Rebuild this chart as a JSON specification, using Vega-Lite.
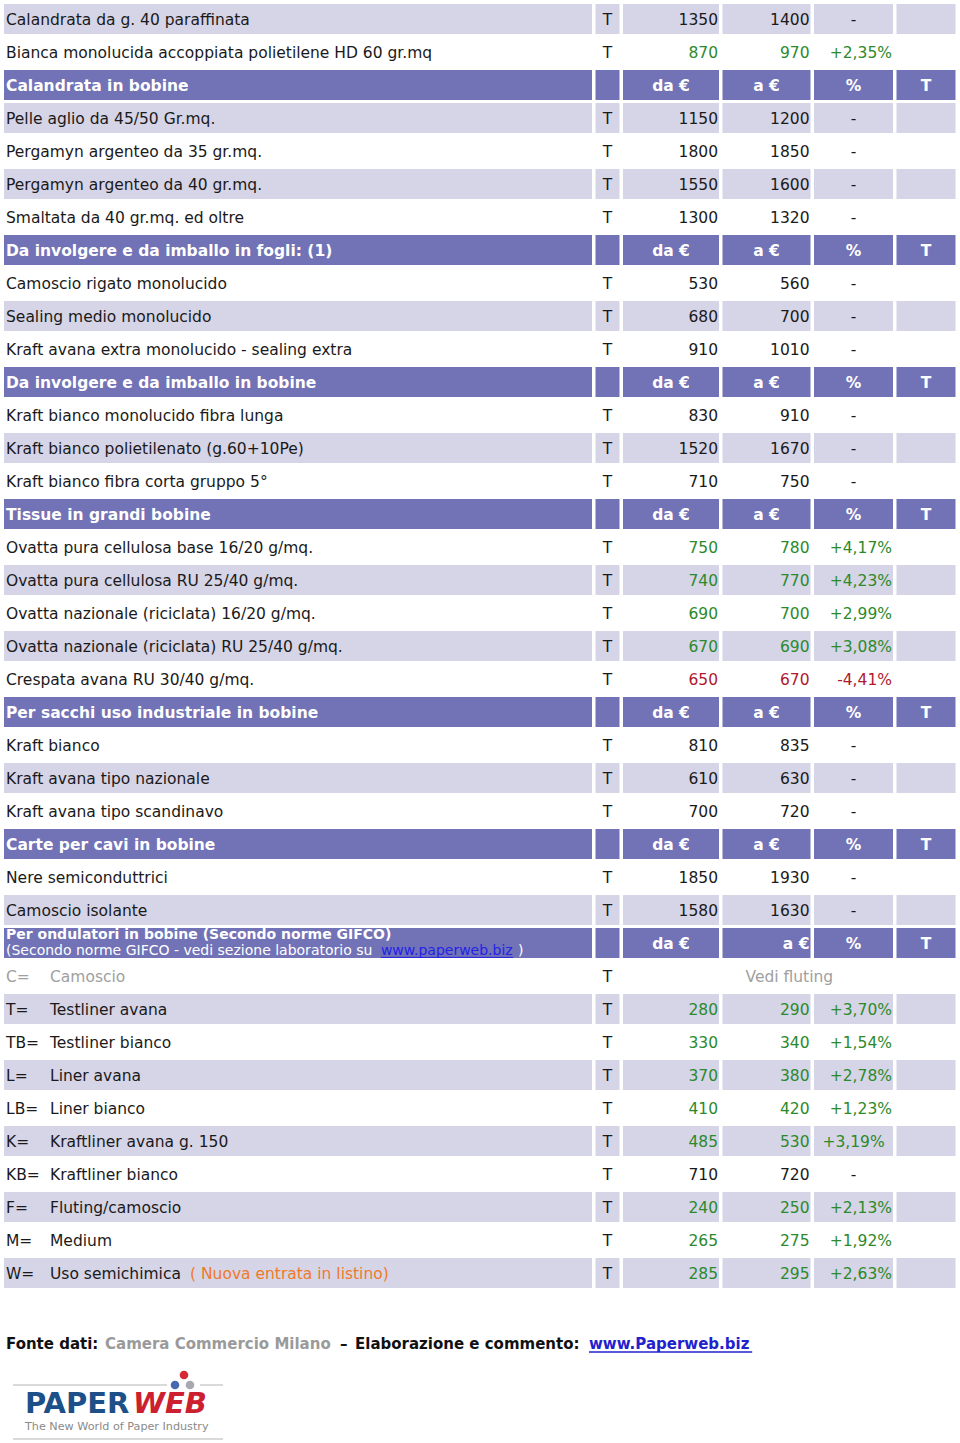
{
  "$schema": "https://vega.github.io/schema/vega-lite/v6.json",
  "background": "white",
  "padding": {"left": 4, "top": 0, "right": 0, "bottom": 0},
  "spacing": 40,
  "config": {"view": {"stroke": null}, "text": {"font": "DejaVu Sans", "fontSize": 15.5}},
  "datasets": {
    "table": [
      {"r":1,"kind":"s","name":"Calandrata da g. 40 paraffinata","u":"T","da":1350,"a":1400,"pct":"-","trend":"flat"},
      {"r":2,"kind":"w","name":"Bianca monolucida accoppiata polietilene HD 60 gr.mq","u":"T","da":870,"a":970,"pct":"+2,35%","trend":"up"},
      {"r":3,"kind":"h","name":"Calandrata in bobine"},
      {"r":4,"kind":"s","name":"Pelle aglio da 45/50 Gr.mq.","u":"T","da":1150,"a":1200,"pct":"-","trend":"flat"},
      {"r":5,"kind":"w","name":"Pergamyn argenteo da 35 gr.mq.","u":"T","da":1800,"a":1850,"pct":"-","trend":"flat"},
      {"r":6,"kind":"s","name":"Pergamyn argenteo da 40 gr.mq.","u":"T","da":1550,"a":1600,"pct":"-","trend":"flat"},
      {"r":7,"kind":"w","name":"Smaltata da 40 gr.mq. ed oltre","u":"T","da":1300,"a":1320,"pct":"-","trend":"flat"},
      {"r":8,"kind":"h","name":"Da involgere e da imballo in fogli: (1)"},
      {"r":9,"kind":"w","name":"Camoscio rigato monolucido","u":"T","da":530,"a":560,"pct":"-","trend":"flat"},
      {"r":10,"kind":"s","name":"Sealing medio monolucido","u":"T","da":680,"a":700,"pct":"-","trend":"flat"},
      {"r":11,"kind":"w","name":"Kraft avana extra monolucido - sealing extra","u":"T","da":910,"a":1010,"pct":"-","trend":"flat"},
      {"r":12,"kind":"h","name":"Da involgere e da imballo in bobine"},
      {"r":13,"kind":"w","name":"Kraft bianco monolucido fibra lunga","u":"T","da":830,"a":910,"pct":"-","trend":"flat"},
      {"r":14,"kind":"s","name":"Kraft bianco polietilenato (g.60+10Pe)","u":"T","da":1520,"a":1670,"pct":"-","trend":"flat"},
      {"r":15,"kind":"w","name":"Kraft bianco fibra corta gruppo 5°","u":"T","da":710,"a":750,"pct":"-","trend":"flat"},
      {"r":16,"kind":"h","name":"Tissue in grandi bobine"},
      {"r":17,"kind":"w","name":"Ovatta pura cellulosa base 16/20 g/mq.","u":"T","da":750,"a":780,"pct":"+4,17%","trend":"up"},
      {"r":18,"kind":"s","name":"Ovatta pura cellulosa RU 25/40 g/mq.","u":"T","da":740,"a":770,"pct":"+4,23%","trend":"up"},
      {"r":19,"kind":"w","name":"Ovatta nazionale (riciclata) 16/20 g/mq.","u":"T","da":690,"a":700,"pct":"+2,99%","trend":"up"},
      {"r":20,"kind":"s","name":"Ovatta nazionale (riciclata) RU 25/40 g/mq.","u":"T","da":670,"a":690,"pct":"+3,08%","trend":"up"},
      {"r":21,"kind":"w","name":"Crespata avana RU 30/40 g/mq.","u":"T","da":650,"a":670,"pct":"-4,41%","trend":"down"},
      {"r":22,"kind":"h","name":"Per sacchi uso industriale in bobine"},
      {"r":23,"kind":"w","name":"Kraft bianco","u":"T","da":810,"a":835,"pct":"-","trend":"flat"},
      {"r":24,"kind":"s","name":"Kraft avana tipo nazionale","u":"T","da":610,"a":630,"pct":"-","trend":"flat"},
      {"r":25,"kind":"w","name":"Kraft avana tipo scandinavo","u":"T","da":700,"a":720,"pct":"-","trend":"flat"},
      {"r":26,"kind":"h","name":"Carte per cavi in bobine"},
      {"r":27,"kind":"w","name":"Nere semiconduttrici","u":"T","da":1850,"a":1930,"pct":"-","trend":"flat"},
      {"r":28,"kind":"s","name":"Camoscio isolante","u":"T","da":1580,"a":1630,"pct":"-","trend":"flat"},
      {"r":29,"kind":"h","name":"Per ondulatori in bobine (Secondo norme GIFCO)","sub":"(Secondo norme GIFCO - vedi sezione laboratorio su","link":"www.paperweb.biz","subEnd":")"},
      {"r":30,"kind":"w","code":"C=","name":"Camoscio","u":"T","see":"Vedi fluting","trend":"ref"},
      {"r":31,"kind":"s","code":"T=","name":"Testliner avana","u":"T","da":280,"a":290,"pct":"+3,70%","trend":"up"},
      {"r":32,"kind":"w","code":"TB=","name":"Testliner bianco","u":"T","da":330,"a":340,"pct":"+1,54%","trend":"up"},
      {"r":33,"kind":"s","code":"L=","name":"Liner avana","u":"T","da":370,"a":380,"pct":"+2,78%","trend":"up"},
      {"r":34,"kind":"w","code":"LB=","name":"Liner bianco","u":"T","da":410,"a":420,"pct":"+1,23%","trend":"up"},
      {"r":35,"kind":"s","code":"K=","name":"Kraftliner avana g. 150","u":"T","da":485,"a":530,"pct":"+3,19%","trend":"up"},
      {"r":36,"kind":"w","code":"KB=","name":"Kraftliner bianco","u":"T","da":710,"a":720,"pct":"-","trend":"flat"},
      {"r":37,"kind":"s","code":"F=","name":"Fluting/camoscio","u":"T","da":240,"a":250,"pct":"+2,13%","trend":"up"},
      {"r":38,"kind":"w","code":"M=","name":"Medium","u":"T","da":265,"a":275,"pct":"+1,92%","trend":"up"},
      {"r":39,"kind":"s","code":"W=","name":"Uso semichimica","note":"( Nuova entrata in listino)","u":"T","da":285,"a":295,"pct":"+2,63%","trend":"up"}
    ]
  },
  "vconcat": [
    {
      "hconcat": [
        {
          "width": 588, "height": {"step": 33},
          "data": {"name": "table"},
          "encoding": {"y": {"field": "r", "type": "ordinal", "axis": null, "scale": {"paddingInner": 0.0909, "paddingOuter": 0.1212}}},
          "layer": [
            {"mark": {"type": "rect"}, "encoding": {"x": {"datum": 0, "type": "quantitative", "scale": {"domain": [0, 1], "nice": false}, "axis": null}, "x2": {"datum": 1}, "fill": {"field": "kind", "type": "nominal", "scale": {"domain": ["h", "s", "w"], "range": ["#7272b6", "#d6d4e7", "rgba(255,255,255,0)"]}, "legend": null}}},
            {"transform": [{"filter": "datum.kind === 'h' && datum.r !== 29"}], "mark": {"type": "text", "align": "left", "dx": 2, "dy": 1, "fontWeight": "bold", "color": "#ffffff"}, "encoding": {"x": {"datum": 0, "type": "quantitative"}, "text": {"field": "name"}}},
            {"transform": [{"filter": "datum.r === 29"}], "mark": {"type": "text", "align": "left", "dx": 2, "dy": -7.5, "fontSize": 14, "fontWeight": "bold", "color": "#ffffff"}, "encoding": {"x": {"datum": 0, "type": "quantitative"}, "text": {"field": "name"}}},
            {"transform": [{"filter": "datum.r === 29"}], "mark": {"type": "text", "align": "left", "dx": 2, "dy": 8, "fontSize": 14, "color": "#ffffff"}, "encoding": {"x": {"datum": 0, "type": "quantitative"}, "text": {"field": "sub"}}},
            {"transform": [{"filter": "datum.r === 29"}], "mark": {"type": "text", "align": "left", "dy": 8, "fontSize": 14, "color": "#2323e6"}, "encoding": {"x": {"datum": 0.641, "type": "quantitative"}, "text": {"field": "link"}}},
            {"transform": [{"filter": "datum.r === 29"}], "mark": {"type": "text", "align": "left", "dy": 8, "fontSize": 14, "color": "#ffffff"}, "encoding": {"x": {"datum": 0.874, "type": "quantitative"}, "text": {"field": "subEnd"}}},
            {"transform": [{"filter": "datum.r === 29"}], "mark": {"type": "rule", "color": "#2323e6", "strokeWidth": 1}, "encoding": {"x": {"datum": 0.641, "type": "quantitative"}, "x2": {"datum": 0.866}, "y": {"field": "r", "type": "ordinal", "bandPosition": 0.98}}},
            {"transform": [{"filter": "datum.kind !== 'h' && !datum.code"}], "mark": {"type": "text", "align": "left", "dx": 2, "dy": 1}, "encoding": {"x": {"datum": 0, "type": "quantitative"}, "text": {"field": "name"}, "color": {"value": "#1a1a1a"}}},
            {"transform": [{"filter": "datum.code"}], "mark": {"type": "text", "align": "left", "dx": 2, "dy": 1}, "encoding": {"x": {"datum": 0, "type": "quantitative"}, "text": {"field": "code"}, "color": {"condition": {"test": "datum.trend === 'ref'", "value": "#a0a0a0"}, "value": "#1a1a1a"}}},
            {"transform": [{"filter": "datum.code"}], "mark": {"type": "text", "align": "left", "dx": 46, "dy": 1}, "encoding": {"x": {"datum": 0, "type": "quantitative"}, "text": {"field": "name"}, "color": {"condition": {"test": "datum.trend === 'ref'", "value": "#a0a0a0"}, "value": "#1a1a1a"}}},
            {"transform": [{"filter": "datum.note"}], "mark": {"type": "text", "align": "left", "dx": 186, "dy": 1, "color": "#f07a2a"}, "encoding": {"x": {"datum": 0, "type": "quantitative"}, "text": {"field": "note"}}}
          ]
        },
        {
          "width": 24, "height": {"step": 33},
          "data": {"name": "table"},
          "encoding": {"y": {"field": "r", "type": "ordinal", "axis": null, "scale": {"paddingInner": 0.0909, "paddingOuter": 0.1212}}},
          "layer": [
            {"mark": {"type": "rect"}, "encoding": {"x": {"datum": 0, "type": "quantitative", "scale": {"domain": [0, 1], "nice": false}, "axis": null}, "x2": {"datum": 1}, "fill": {"field": "kind", "type": "nominal", "scale": {"domain": ["h", "s", "w"], "range": ["#7272b6", "#d6d4e7", "rgba(255,255,255,0)"]}, "legend": null}}},
            {"transform": [{"filter": "datum.u"}], "mark": {"type": "text", "align": "center", "dy": 1, "color": "#1a1a1a"}, "encoding": {"x": {"datum": 0.5, "type": "quantitative"}, "text": {"field": "u"}}}
          ]
        },
        {
          "width": 96, "height": {"step": 33},
          "data": {"name": "table"},
          "encoding": {"y": {"field": "r", "type": "ordinal", "axis": null, "scale": {"paddingInner": 0.0909, "paddingOuter": 0.1212}}},
          "layer": [
            {"mark": {"type": "rect"}, "encoding": {"x": {"datum": 0, "type": "quantitative", "scale": {"domain": [0, 1], "nice": false}, "axis": null}, "x2": {"datum": 1}, "fill": {"field": "kind", "type": "nominal", "scale": {"domain": ["h", "s", "w"], "range": ["#7272b6", "#d6d4e7", "rgba(255,255,255,0)"]}, "legend": null}}},
            {"transform": [{"filter": "datum.kind === 'h'"}], "mark": {"type": "text", "align": "center", "dy": 1, "fontWeight": "bold", "color": "#ffffff"}, "encoding": {"x": {"datum": 0.5, "type": "quantitative"}, "text": {"value": "da €"}}},
            {"transform": [{"filter": "isValid(datum.da)"}], "mark": {"type": "text", "align": "right", "dx": -1, "dy": 1}, "encoding": {"x": {"datum": 1, "type": "quantitative"}, "text": {"field": "da"}, "color": {"field": "trend", "type": "nominal", "scale": {"domain": ["up", "down", "flat"], "range": ["#2b8a2b", "#b0182c", "#1a1a1a"]}, "legend": null}}}
          ]
        },
        {
          "width": 88, "height": {"step": 33},
          "data": {"name": "table"},
          "encoding": {"y": {"field": "r", "type": "ordinal", "axis": null, "scale": {"paddingInner": 0.0909, "paddingOuter": 0.1212}}},
          "layer": [
            {"mark": {"type": "rect"}, "encoding": {"x": {"datum": 0, "type": "quantitative", "scale": {"domain": [0, 1], "nice": false}, "axis": null}, "x2": {"datum": 1}, "fill": {"field": "kind", "type": "nominal", "scale": {"domain": ["h", "s", "w"], "range": ["#7272b6", "#d6d4e7", "rgba(255,255,255,0)"]}, "legend": null}}},
            {"transform": [{"filter": "datum.kind === 'h' && datum.r !== 29"}], "mark": {"type": "text", "align": "center", "dy": 1, "fontWeight": "bold", "color": "#ffffff"}, "encoding": {"x": {"datum": 0.5, "type": "quantitative"}, "text": {"value": "a €"}}},
            {"transform": [{"filter": "datum.r === 29"}], "mark": {"type": "text", "align": "right", "dx": -1, "dy": 1, "fontWeight": "bold", "color": "#ffffff"}, "encoding": {"x": {"datum": 1, "type": "quantitative"}, "text": {"value": "a €"}}},
            {"transform": [{"filter": "isValid(datum.a)"}], "mark": {"type": "text", "align": "right", "dx": -1, "dy": 1}, "encoding": {"x": {"datum": 1, "type": "quantitative"}, "text": {"field": "a"}, "color": {"field": "trend", "type": "nominal", "scale": {"domain": ["up", "down", "flat"], "range": ["#2b8a2b", "#b0182c", "#1a1a1a"]}, "legend": null}}},
            {"transform": [{"filter": "datum.see"}], "mark": {"type": "text", "align": "left", "dx": 23, "dy": 1, "color": "#a0a0a0"}, "encoding": {"x": {"datum": 0, "type": "quantitative"}, "text": {"field": "see"}}}
          ]
        },
        {
          "width": 79, "height": {"step": 33},
          "data": {"name": "table"},
          "encoding": {"y": {"field": "r", "type": "ordinal", "axis": null, "scale": {"paddingInner": 0.0909, "paddingOuter": 0.1212}}},
          "layer": [
            {"mark": {"type": "rect"}, "encoding": {"x": {"datum": 0, "type": "quantitative", "scale": {"domain": [0, 1], "nice": false}, "axis": null}, "x2": {"datum": 1}, "fill": {"field": "kind", "type": "nominal", "scale": {"domain": ["h", "s", "w"], "range": ["#7272b6", "#d6d4e7", "rgba(255,255,255,0)"]}, "legend": null}}},
            {"transform": [{"filter": "datum.kind === 'h'"}], "mark": {"type": "text", "align": "center", "dy": 1, "fontWeight": "bold", "color": "#ffffff"}, "encoding": {"x": {"datum": 0.5, "type": "quantitative"}, "text": {"value": "%"}}},
            {"transform": [{"filter": "datum.pct === '-' || datum.r === 35"}], "mark": {"type": "text", "align": "center", "dy": 1}, "encoding": {"x": {"datum": 0.5, "type": "quantitative"}, "text": {"field": "pct"}, "color": {"field": "trend", "type": "nominal", "scale": {"domain": ["up", "down", "flat"], "range": ["#2b8a2b", "#b0182c", "#1a1a1a"]}, "legend": null}}},
            {"transform": [{"filter": "datum.pct && datum.pct !== '-' && datum.r !== 35"}], "mark": {"type": "text", "align": "right", "dx": -1, "dy": 1}, "encoding": {"x": {"datum": 1, "type": "quantitative"}, "text": {"field": "pct"}, "color": {"field": "trend", "type": "nominal", "scale": {"domain": ["up", "down", "flat"], "range": ["#2b8a2b", "#b0182c", "#1a1a1a"]}, "legend": null}}}
          ]
        },
        {
          "width": 59, "height": {"step": 33},
          "data": {"name": "table"},
          "encoding": {"y": {"field": "r", "type": "ordinal", "axis": null, "scale": {"paddingInner": 0.0909, "paddingOuter": 0.1212}}},
          "layer": [
            {"mark": {"type": "rect"}, "encoding": {"x": {"datum": 0, "type": "quantitative", "scale": {"domain": [0, 1], "nice": false}, "axis": null}, "x2": {"datum": 1}, "fill": {"field": "kind", "type": "nominal", "scale": {"domain": ["h", "s", "w"], "range": ["#7272b6", "#d6d4e7", "rgba(255,255,255,0)"]}, "legend": null}}},
            {"transform": [{"filter": "datum.kind === 'h'"}], "mark": {"type": "text", "align": "center", "dy": 1, "fontWeight": "bold", "color": "#ffffff"}, "encoding": {"x": {"datum": 0.5, "type": "quantitative"}, "text": {"value": "T"}}}
          ]
        }
      ],
      "spacing": 3.5,
      "bounds": "flush"
    },
    {
      "vconcat": [
        {
          "hconcat": [
            {"width": 101, "height": 24, "data": {"values": [{}]}, "mark": {"type": "text", "align": "left", "dx": 2, "fontSize": 15, "fontWeight": "bold", "color": "#111111"}, "encoding": {"x": {"datum": 0, "type": "quantitative", "scale": {"domain": [0, 1], "nice": false}, "axis": null}, "text": {"value": "Fonte dati:"}}},
            {"width": 235, "height": 24, "data": {"values": [{}]}, "mark": {"type": "text", "align": "left", "fontSize": 15, "fontWeight": "bold", "color": "#9a9a9a"}, "encoding": {"x": {"datum": 0, "type": "quantitative", "scale": {"domain": [0, 1], "nice": false}, "axis": null}, "text": {"value": "Camera Commercio Milano"}}},
            {"width": 15, "height": 24, "data": {"values": [{}]}, "mark": {"type": "text", "align": "left", "fontSize": 15, "fontWeight": "bold", "color": "#111111"}, "encoding": {"x": {"datum": 0, "type": "quantitative", "scale": {"domain": [0, 1], "nice": false}, "axis": null}, "text": {"value": "–"}}},
            {"width": 234, "height": 24, "data": {"values": [{}]}, "mark": {"type": "text", "align": "left", "fontSize": 15, "fontWeight": "bold", "color": "#111111"}, "encoding": {"x": {"datum": 0, "type": "quantitative", "scale": {"domain": [0, 1], "nice": false}, "axis": null}, "text": {"value": "Elaborazione e commento:"}}},
            {
              "width": 170, "height": 24, "data": {"values": [{}]},
              "layer": [
                {"mark": {"type": "text", "align": "left", "fontSize": 15, "fontWeight": "bold", "color": "#2222cc"}, "encoding": {"x": {"datum": 0, "type": "quantitative", "scale": {"domain": [0, 1], "nice": false}, "axis": null}, "text": {"value": "www.Paperweb.biz"}}},
                {"mark": {"type": "rule", "color": "#2222cc", "strokeWidth": 1.5}, "encoding": {"x": {"datum": 0, "type": "quantitative"}, "x2": {"datum": 0.96}, "y": {"datum": 0.17, "type": "quantitative", "scale": {"domain": [0, 1], "nice": false}, "axis": null}}}
              ]
            }
          ],
          "spacing": 0,
          "bounds": "flush"
        },
        {
          "width": 236, "height": 83, "data": {"values": [{}]},
          "layer": [
            {"mark": {"type": "rule", "color": "#cccccc", "strokeWidth": 1.5}, "encoding": {"x": {"datum": 9, "type": "quantitative", "scale": {"domain": [0, 236], "nice": false, "zero": false}, "axis": null}, "x2": {"datum": 163}, "y": {"datum": 25, "type": "quantitative", "scale": {"domain": [0, 83], "nice": false, "zero": false, "reverse": true}, "axis": null}}},
            {"mark": {"type": "rule", "color": "#cccccc", "strokeWidth": 1.5}, "encoding": {"x": {"datum": 196, "type": "quantitative"}, "x2": {"datum": 219}, "y": {"datum": 25, "type": "quantitative"}}},
            {"mark": {"type": "rule", "color": "#cccccc", "strokeWidth": 1.5}, "encoding": {"x": {"datum": 9, "type": "quantitative"}, "x2": {"datum": 219}, "y": {"datum": 79, "type": "quantitative"}}},
            {"mark": {"type": "point", "filled": true, "size": 75, "opacity": 1, "color": "#d42a33"}, "encoding": {"x": {"datum": 180, "type": "quantitative"}, "y": {"datum": 15, "type": "quantitative"}}},
            {"mark": {"type": "point", "filled": true, "size": 75, "opacity": 1, "color": "#4a68b0"}, "encoding": {"x": {"datum": 171, "type": "quantitative"}, "y": {"datum": 25, "type": "quantitative"}}},
            {"mark": {"type": "point", "filled": true, "size": 75, "opacity": 1, "color": "#a8a8b2"}, "encoding": {"x": {"datum": 186, "type": "quantitative"}, "y": {"datum": 25, "type": "quantitative"}}},
            {"mark": {"type": "text", "align": "left", "baseline": "alphabetic", "fontSize": 29, "fontWeight": "bold", "color": "#1d4f88"}, "encoding": {"x": {"datum": 21, "type": "quantitative"}, "y": {"datum": 53, "type": "quantitative"}, "text": {"value": "PAPER"}}},
            {"mark": {"type": "text", "align": "left", "baseline": "alphabetic", "fontSize": 29, "fontWeight": "bold", "fontStyle": "italic", "color": "#cc2030"}, "encoding": {"x": {"datum": 129, "type": "quantitative"}, "y": {"datum": 53, "type": "quantitative"}, "text": {"value": "WEB"}}},
            {"mark": {"type": "text", "align": "left", "baseline": "middle", "fontSize": 11.2, "color": "#8a8a8a"}, "encoding": {"x": {"datum": 21, "type": "quantitative"}, "y": {"datum": 67, "type": "quantitative"}, "text": {"value": "The New World of Paper Industry"}}}
          ]
        }
      ],
      "spacing": 4
    }
  ]
}
